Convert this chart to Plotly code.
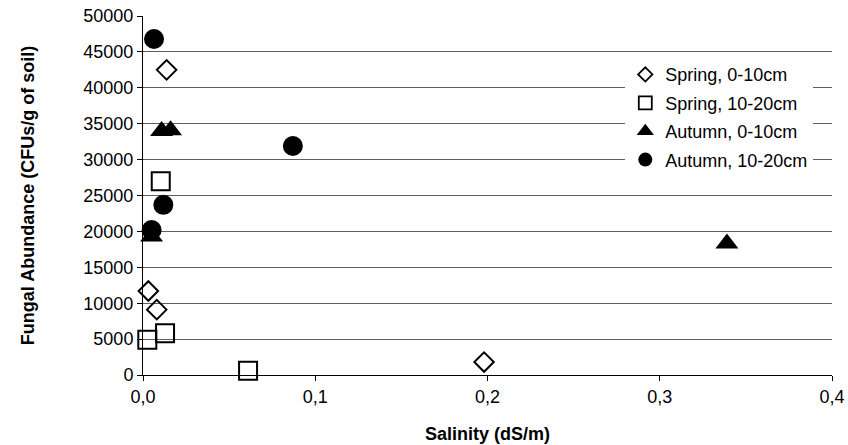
import plotly.graph_objects as go

series_names = ["Spring, 0-10cm", "Spring, 10-20cm", "Autumn, 0-10cm", "Autumn, 10-20cm"]

spring_0_10_x = [0.0137, 0.0031, 0.008, 0.198]
spring_0_10_y = [42500, 11700, 9100, 1800]

spring_10_20_x = [0.0103, 0.0128, 0.0025, 0.061]
spring_10_20_y = [27000, 5800, 4900, 600]

autumn_0_10_x = [0.0108, 0.016, 0.005, 0.339]
autumn_0_10_y = [34000, 34100, 19300, 18300]

autumn_10_20_x = [0.0064, 0.0118, 0.005, 0.087]
autumn_10_20_y = [46800, 23700, 20200, 31900]

x_ticks = [0.0, 0.1, 0.2, 0.3, 0.4]
x_tick_labels = ["0,0", "0,1", "0,2", "0,3", "0,4"]
y_ticks = [0, 5000, 10000, 15000, 20000, 25000, 30000, 35000, 40000, 45000, 50000]
y_tick_labels = [str(v) for v in y_ticks]

styles = [
    dict(symbol="diamond-open", size=15, color="black", line=dict(width=2, color="black")),
    dict(symbol="square-open", size=18, color="black", line=dict(width=2, color="black")),
    dict(symbol="triangle-up", size=20, color="black", line=dict(width=0)),
    dict(symbol="circle", size=20, color="black", line=dict(width=0)),
]
legend_styles = [
    dict(symbol="diamond-open", size=11, color="black", line=dict(width=1.8, color="black")),
    dict(symbol="square-open", size=13, color="black", line=dict(width=1.8, color="black")),
    dict(symbol="triangle-up", size=15, color="black", line=dict(width=0)),
    dict(symbol="circle", size=14, color="black", line=dict(width=0)),
]
data = [
    (spring_0_10_x, spring_0_10_y),
    (spring_10_20_x, spring_10_20_y),
    (autumn_0_10_x, autumn_0_10_y),
    (autumn_10_20_x, autumn_10_20_y),
]

fig = go.Figure()
for name, (xs, ys), st in zip(series_names, data, styles):
    fig.add_trace(go.Scatter(x=xs, y=ys, mode="markers", name=name, marker=st,
                             showlegend=False, cliponaxis=False))
for i, (name, st) in enumerate(zip(series_names, legend_styles)):
    fig.add_trace(go.Scatter(x=[None], y=[None], mode="markers", name=name, marker=st,
                             legendgroup=f"g{i}", showlegend=True))

font_family = "Liberation Sans, Arial, sans-serif"
fig.update_layout(
    width=848, height=445,
    margin=dict(l=143, r=16, t=16, b=70, autoexpand=False),
    plot_bgcolor="white", paper_bgcolor="white",
    font=dict(family=font_family, size=18, color="black"),
    showlegend=True,
    legend=dict(
        x=0.70, y=0.888, xanchor="left", yanchor="top",
        bgcolor="white", borderwidth=0,
        font=dict(size=18, family=font_family, color="black"),
        tracegroupgap=2, itemwidth=30,
    ),
    xaxis=dict(
        range=[0, 0.4], tickvals=x_ticks, ticktext=x_tick_labels,
        showgrid=False, zeroline=False, automargin=False,
        showline=True, linecolor="black", linewidth=1,
        ticks="outside", ticklen=5, tickcolor="black",
        tickfont=dict(size=18),
        title=dict(text="<b>Salinity (dS/m)</b>", font=dict(size=18), standoff=21),
    ),
    yaxis=dict(
        range=[0, 50000], tickvals=y_ticks, ticktext=y_tick_labels,
        showgrid=True, gridcolor="#5e5e5e", gridwidth=1,
        zeroline=False, automargin=False,
        showline=True, linecolor="black", linewidth=1,
        ticks="outside", ticklen=5, tickcolor="black",
        tickfont=dict(size=18),
        title=dict(text="<b>Fungal Abundance (CFUs/g of soil)</b>", font=dict(size=18), standoff=44),
    ),
)

fig.write_html("out.html", config={"displayModeBar": False},
               post_script="document.body.style.margin='0';")
